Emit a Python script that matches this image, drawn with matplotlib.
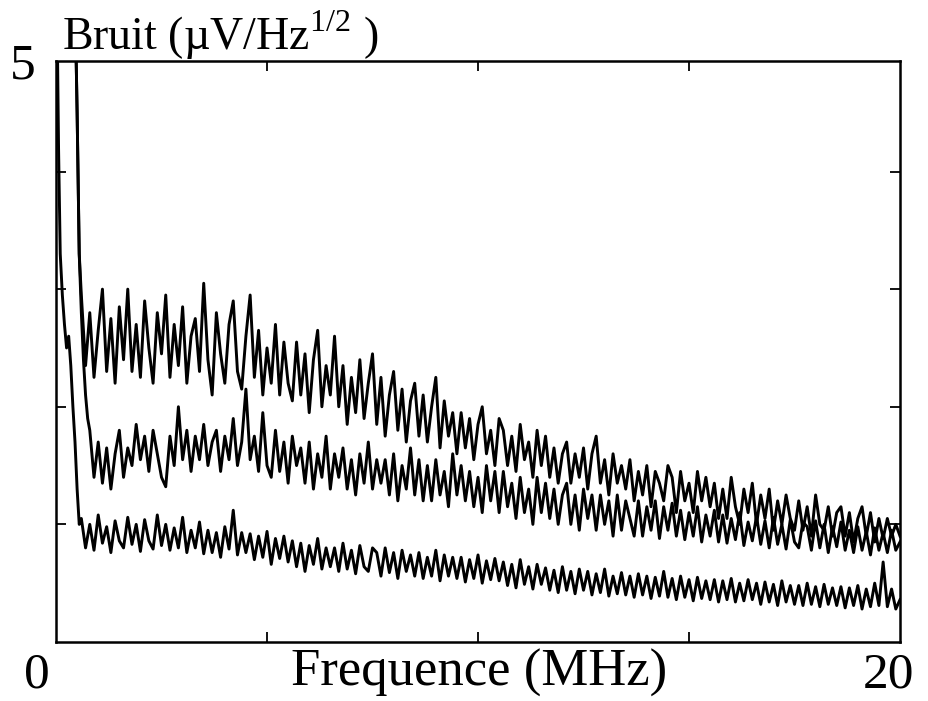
import numpy as np
import matplotlib
matplotlib.use("Agg")
import matplotlib.pyplot as plt

plt.rcParams['font.family'] = ['Liberation Serif', 'DejaVu Serif']
plt.rcParams['mathtext.fontset'] = 'custom'
plt.rcParams['mathtext.rm'] = 'Liberation Serif'

# Noise spectra (uV/Hz^1/2) vs frequency (MHz)
# steep low-frequency rise of each trace
upper_head_f = [0.45, 0.5, 0.55]
upper_head_v = [5.5, 4.5, 3.3]
middle_head_f = [0.45, 0.5, 0.55, 0.6, 0.65, 0.7, 0.75]
middle_head_v = [5.5, 4.5, 3.3, 2.8, 2.4, 2.1, 1.9]
lower_head_f = [0.02, 0.06, 0.1, 0.15, 0.2, 0.25, 0.3, 0.35, 0.4, 0.45, 0.5, 0.55]
lower_head_v = [5.5, 4.2, 3.3, 2.95, 2.7, 2.5, 2.6, 2.35, 2.0, 1.7, 1.3, 1.0]

# noisy part, 0.1 MHz steps
upper_f0 = 0.6
upper_v = [
    2.95, 2.35, 2.8, 2.25, 2.65, 3.0, 2.3, 2.75, 2.2, 2.85,
    2.4, 3.0, 2.3, 2.7, 2.25, 2.9, 2.5, 2.2, 2.8, 2.45,
    2.95, 2.25, 2.7, 2.35, 2.85, 2.2, 2.6, 2.75, 2.3, 3.05,
    2.4, 2.1, 2.8, 2.45, 2.2, 2.7, 2.9, 2.3, 2.15, 2.6,
    2.95, 2.25, 2.65, 2.1, 2.5, 2.2, 2.7, 2.1, 2.55, 2.2,
    2.05, 2.55, 2.1, 2.45, 1.95, 2.4, 2.65, 2.0, 2.35, 2.1,
    2.6, 2.0, 2.35, 1.85, 2.25, 1.95, 2.4, 1.9, 2.2, 2.45,
    1.85, 2.25, 1.75, 2.1, 2.3, 1.8, 2.15, 1.7, 2.05, 2.2,
    1.75, 2.1, 1.7, 2.0, 2.25, 1.65, 2.05, 1.75, 1.95, 1.6,
    1.95, 1.65, 1.9, 1.55, 1.85, 2.0, 1.6, 1.8, 1.5, 1.9,
    1.8, 1.5, 1.75, 1.45, 1.85, 1.55, 1.7, 1.4, 1.8, 1.5,
    1.75, 1.4, 1.65, 1.35, 1.6, 1.7, 1.35, 1.6, 1.4, 1.65,
    1.3, 1.6, 1.75, 1.35, 1.55, 1.25, 1.6, 1.35, 1.5, 1.3,
    1.55, 1.2, 1.45, 1.25, 1.5, 1.15, 1.45, 1.35, 1.2, 1.5,
    1.4, 1.1, 1.45, 1.2, 1.35, 1.1, 1.45, 1.2, 1.4, 1.15,
    1.35, 1.05, 1.3, 1.05, 1.4, 1.15, 1.0, 1.3, 1.1, 1.35,
    1.0, 1.25, 1.05, 1.3, 0.95, 1.2, 1.0, 1.25, 1.05, 0.95,
    1.2, 0.95, 1.15, 0.9, 1.25, 1.0, 0.95, 1.15, 0.9, 1.1,
    1.15, 0.9, 1.1, 0.85, 1.05, 1.15, 0.9, 1.1, 0.85, 1.05,
    0.88, 1.05, 0.9, 1.0, 0.9,
]

middle_f0 = 0.8
middle_v = [
    1.8, 1.4, 1.7, 1.35, 1.65, 1.3, 1.6, 1.8, 1.4, 1.65,
    1.5, 1.85, 1.55, 1.75, 1.45, 1.8, 1.6, 1.4, 1.32, 1.75,
    1.5, 2.0, 1.55, 1.8, 1.45, 1.75, 1.55, 1.85, 1.5, 1.7,
    1.8, 1.45, 1.75, 1.55, 1.9, 1.5, 1.7, 2.15, 1.55, 1.75,
    1.45, 1.95, 1.5, 1.4, 1.8, 1.45, 1.7, 1.35, 1.75, 1.5,
    1.65, 1.35, 1.7, 1.3, 1.6, 1.4, 1.75, 1.3, 1.6, 1.4,
    1.65, 1.3, 1.55, 1.25, 1.6, 1.35, 1.7, 1.3, 1.55, 1.35,
    1.55, 1.25, 1.6, 1.2, 1.5, 1.3, 1.65, 1.25, 1.55, 1.2,
    1.5, 1.2, 1.55, 1.25, 1.45, 1.15, 1.6, 1.25, 1.5, 1.2,
    1.45, 1.15, 1.4, 1.1, 1.5, 1.2, 1.45, 1.1, 1.45, 1.15,
    1.35, 1.05, 1.4, 1.1, 1.3, 1.0, 1.4, 1.1, 1.35, 1.05,
    1.3, 1.0, 1.25, 1.35, 1.0, 1.25, 0.95, 1.3, 1.05, 1.25,
    0.95, 1.25, 1.0, 1.2, 0.9, 1.25, 0.95, 1.2, 1.05, 0.9,
    1.2, 0.9, 1.15, 0.95, 1.2, 0.88, 1.15, 0.95, 1.18, 0.9,
    1.12, 0.87, 1.1, 0.9, 1.15, 0.85, 1.08, 0.9, 1.12, 0.85,
    1.08, 0.84, 1.05, 0.87, 1.1, 0.82, 1.02, 0.86, 1.07, 0.83,
    1.03, 0.8, 1.06, 0.83, 1.0, 0.79, 1.04, 0.85, 0.8, 1.02,
    0.98, 0.78, 1.03, 0.8, 1.0, 0.76, 0.98, 0.81, 1.02, 0.78,
    0.95, 0.76, 0.98, 0.78, 0.94, 0.74, 0.97, 0.78, 0.93, 0.76, 0.95, 0.78, 0.85,
]

lower_f0 = 0.6
lower_v = [
    1.05, 0.8, 1.0, 0.78, 1.08, 0.84, 0.98, 0.76, 1.03, 0.86,
    0.8, 1.06, 0.83, 1.0, 0.77, 1.04, 0.86, 0.79, 1.08, 0.82,
    1.0, 0.78, 0.97, 0.8, 1.06, 0.76, 0.95, 0.8, 1.02, 0.75,
    0.95, 0.76, 0.93, 0.72, 0.98, 0.79, 1.12, 0.74, 0.93, 0.76,
    0.92, 0.7, 0.9, 0.72, 0.94, 0.66, 0.88, 0.71, 0.9, 0.68,
    0.86, 0.64, 0.84, 0.6, 0.82, 0.66, 0.88, 0.62, 0.8, 0.64,
    0.8, 0.6, 0.84, 0.62, 0.78, 0.58, 0.82, 0.64, 0.6, 0.8,
    0.76, 0.56, 0.8, 0.59, 0.76, 0.54, 0.78, 0.6, 0.74, 0.56,
    0.76, 0.54, 0.72, 0.56, 0.78, 0.52, 0.74, 0.56, 0.72, 0.54,
    0.72, 0.51, 0.7, 0.54, 0.74, 0.5, 0.69, 0.53, 0.71, 0.52,
    0.68, 0.48, 0.66, 0.46, 0.7, 0.49, 0.64, 0.45, 0.66, 0.49,
    0.63, 0.44, 0.61, 0.42, 0.64, 0.44, 0.6, 0.41, 0.62, 0.44,
    0.6, 0.4, 0.58, 0.42, 0.62, 0.39, 0.56, 0.41, 0.59, 0.4,
    0.56, 0.38, 0.58, 0.4, 0.56, 0.37, 0.55, 0.39, 0.6, 0.38,
    0.54, 0.36, 0.56, 0.38, 0.53, 0.35, 0.55, 0.37, 0.52, 0.36,
    0.53, 0.34, 0.52, 0.36, 0.54, 0.34, 0.5, 0.35, 0.53, 0.36,
    0.5, 0.32, 0.51, 0.34, 0.49, 0.31, 0.52, 0.34, 0.48, 0.32,
    0.48, 0.31, 0.5, 0.32, 0.47, 0.3, 0.49, 0.32, 0.46, 0.31,
    0.47, 0.29, 0.46, 0.31, 0.48, 0.28, 0.45, 0.3, 0.5, 0.31,
    0.68, 0.3, 0.45, 0.28, 0.36,
]
F_END = 20.0


def trace(head_f, head_v, f0, vals):
    f = np.concatenate([head_f, np.linspace(f0, F_END, len(vals))])
    v = np.concatenate([head_v, vals])
    return f, v


fig = plt.figure(figsize=(9.29, 7.01), dpi=100)
ax = fig.add_axes([0.0603, 0.0842, 0.9085, 0.8288])

for hf, hv, f0, vals in [(upper_head_f, upper_head_v, upper_f0, upper_v),
                         (middle_head_f, middle_head_v, middle_f0, middle_v),
                         (lower_head_f, lower_head_v, lower_f0, lower_v)]:
    f, v = trace(hf, hv, f0, vals)
    ax.plot(f, v, color='black', lw=2.1)

ax.set_xlim(0, 20)
ax.set_ylim(0, 4.94)
ax.set_xticks([5, 10, 15])
ax.set_yticks([1, 2, 3, 4])
ax.set_xticklabels([])
ax.set_yticklabels([])
ax.tick_params(direction='in', length=7, width=1.3, top=True, right=True,
               color='black')
for s in ax.spines.values():
    s.set_linewidth(1.8)

fig.text(0.0667, 0.929, r'Bruit (µV/Hz$^{\mathrm{1/2}}$ )', fontsize=33,
         ha='left', va='baseline')
fig.text(0.024, 0.906, '5', fontsize=37, ha='center', va='center')
fig.text(0.040, 0.037, '0', fontsize=37, ha='center', va='center')
fig.text(0.956, 0.037, '20', fontsize=37, ha='center', va='center')
fig.text(0.5156, 0.040, 'Frequence (MHz)', fontsize=38, ha='center',
         va='center')

fig.savefig('out.png', dpi=100)
